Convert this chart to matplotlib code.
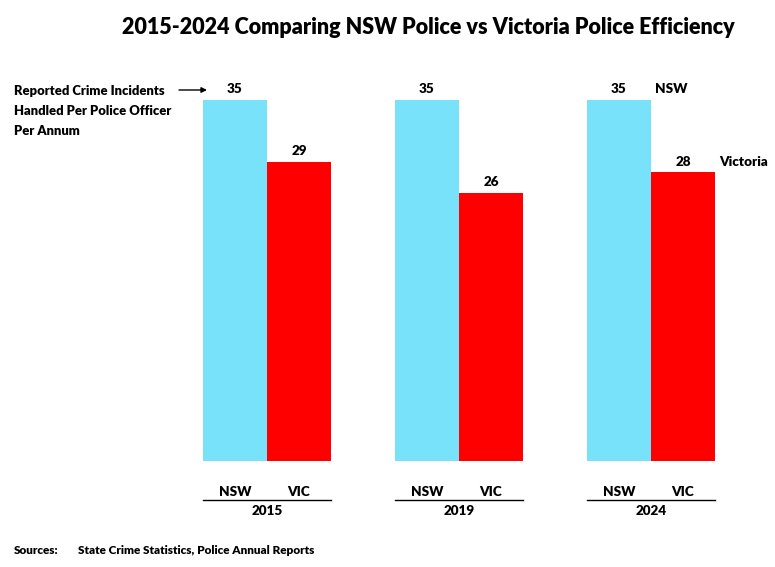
import numpy as np
import matplotlib.pyplot as plt
import matplotlib.transforms as mtransforms

# --- data ---
years = ["2015", "2019", "2024"]
states = ["NSW", "VIC"]
nsw = [35, 35, 35]
vic = [29, 26, 28]

blue = "#78E2FA"
red = "#FF0000"

plt.rcParams['font.family'] = ['Lato', 'DejaVu Sans']
WT = 'heavy'

W, H = 775, 567
fig = plt.figure(figsize=(W / 100, H / 100), dpi=100)

# axes placed in pixel terms: x 150..750, y 60..461
ax = fig.add_axes([150 / W, 1 - 461 / H, 600 / W, 401 / H])
x = np.arange(len(years))
bw = 1 / 3
ax.bar(x - bw / 2, nsw, bw, color=blue)
ax.bar(x + bw / 2, vic, bw, color=red)
ax.set_xlim((150 - 267) / 192, (750 - 267) / 192)
ax.set_ylim(0, 35 * 401 / 361)
ax.axis('off')

fs = 9.7
for i in range(len(years)):
    ax.text(x[i] - bw / 2, nsw[i] + 0.45, str(nsw[i]), ha='center', va='bottom',
            fontsize=fs, fontweight=WT)
    ax.text(x[i] + bw / 2, vic[i] + 0.45, str(vic[i]), ha='center', va='bottom',
            fontsize=fs, fontweight=WT)

# category labels below the bars
tr = mtransforms.blended_transform_factory(ax.transData, fig.transFigure)
for i, yr in enumerate(years):
    for j, st in enumerate(states):
        ax.text(x[i] + (j - 0.5) * bw, 1 - 492 / H, st, transform=tr,
                ha='center', va='center', fontsize=fs, fontweight=WT)
    ax.plot([x[i] - bw, x[i] + bw], [1 - 500 / H] * 2, transform=tr,
            color='black', lw=1, clip_on=False)
    ax.text(x[i], 1 - 511 / H, yr, transform=tr, ha='center', va='center',
            fontsize=fs, fontweight=WT)

# series labels at the right of the last group
ax.text(x[-1] + 0.02, nsw[-1] + 0.45, "NSW", ha='left', va='bottom',
        fontsize=fs, fontweight=WT)
ax.text(x[-1] + bw + 0.02, vic[-1] + 0.45, "Victoria", ha='left', va='bottom',
        fontsize=fs, fontweight=WT)

# title and notes
fig.text(428 / W, 1 - 27 / H, "2015-2024 Comparing NSW Police vs Victoria Police Efficiency",
         ha='center', va='center', fontsize=15.5, fontweight=WT)
for k, line in enumerate(["Reported Crime Incidents", "Handled Per Police Officer", "Per Annum"]):
    fig.text(14 / W, 1 - (91 + 20 * k) / H, line, ha='left', va='center',
             fontsize=9.4, fontweight=WT)
ax.annotate("", xy=(207, H - 90), xycoords='figure pixels',
            xytext=(179, H - 90), textcoords='figure pixels',
            arrowprops=dict(arrowstyle='-|>', color='black', lw=1,
                            mutation_scale=8, shrinkA=0, shrinkB=0))

fig.text(14 / W, 1 - 551 / H, "Sources:", ha='left', va='center', fontsize=8.5, fontweight=WT)
fig.text(78 / W, 1 - 551 / H, "State Crime Statistics, Police Annual Reports",
         ha='left', va='center', fontsize=8.5, fontweight=WT)

fig.savefig("out.png", dpi=100)
